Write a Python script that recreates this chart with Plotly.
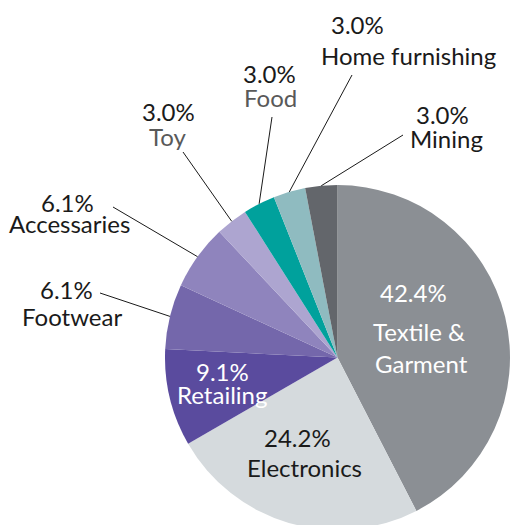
import math
import plotly.graph_objects as go

# Share of companies by sector (percent)
sectors = ["Textile & Garment", "Electronics", "Retailing", "Footwear", "Accessaries",
           "Toy", "Food", "Home furnishing", "Mining"]
shares = [42.4, 24.2, 9.1, 6.1, 6.1, 3.0, 3.0, 3.0, 3.0]
name_lines = [["Textile &", "Garment"], ["Electronics"], ["Retailing"], ["Footwear"],
              ["Accessaries"], ["Toy"], ["Food"], ["Home furnishing"], ["Mining"]]

colors = ["#8b8f94", "#d5dadd", "#5a4b9e", "#7467ab", "#8f84bd",
          "#ada5d0", "#00a19c", "#8fbbc0", "#63666b"]

W, H = 510, 540
FONT = "Lato"
FS = 24

# Pie placement in pixels (left, top, diameter)
PIE_LEFT, PIE_TOP, PIE_D = 165, 185, 345
cx, cy, r = PIE_LEFT + PIE_D / 2, PIE_TOP + PIE_D / 2, PIE_D / 2


def px(x):
    return x / W


def py(y):
    return (H - y) / H


# Label layout: centre of the percent line, centres of the name lines,
# text colours, and the start point of a leader line (None = inside label)
label_pos = {
    "Textile & Garment": ((413, 293), [(419, 331), (421, 363)]),
    "Electronics": ((297, 437), [(304, 467)]),
    "Retailing": ((222, 371), [(222, 394)]),
    "Footwear": ((66, 290), [(72, 316)]),
    "Accessaries": ((67, 202), [(69, 223)]),
    "Toy": ((168, 112), [(167, 137)]),
    "Food": ((269, 73), [(270, 98)]),
    "Home furnishing": ((357, 25), [(408, 55)]),
    "Mining": ((442, 115), [(446, 138)]),
}
pct_color = {"Textile & Garment": "white", "Retailing": "white"}
name_color = {"Textile & Garment": "white", "Retailing": "white",
              "Toy": "#595959", "Food": "#595959"}
leader_start = {
    "Footwear": (100, 293),
    "Accessaries": (113, 207),
    "Toy": (183, 152),
    "Food": (272, 117),
    "Home furnishing": (352, 75),
    "Mining": (403, 135),
}

fig = go.Figure(go.Pie(
    labels=sectors,
    values=shares,
    sort=False,
    direction="clockwise",
    rotation=0,
    marker=dict(colors=colors, line=dict(width=0)),
    textinfo="none",
    hoverinfo="label+percent",
    showlegend=False,
    domain=dict(x=[px(PIE_LEFT), px(PIE_LEFT + PIE_D)],
                y=[py(PIE_TOP + PIE_D), py(PIE_TOP)]),
))

annotations = []
shapes = []
total = sum(shares)
cum = 0.0
for name, val, lines in zip(sectors, shares, name_lines):
    mid = (cum + val / 2) / total * 2 * math.pi
    cum += val
    (pxy, name_xy) = label_pos[name]
    annotations.append(dict(
        x=px(pxy[0]), y=py(pxy[1]), xref="paper", yref="paper",
        text=f"{val:.1f}%", showarrow=False, xanchor="center", yanchor="middle",
        font=dict(family=FONT, size=FS, color=pct_color.get(name, "#1a1a1a")),
    ))
    for line, (lx, ly) in zip(lines, name_xy):
        annotations.append(dict(
            x=px(lx), y=py(ly), xref="paper", yref="paper",
            text=line, showarrow=False, xanchor="center", yanchor="middle",
            font=dict(family=FONT, size=FS, color=name_color.get(name, "#1a1a1a")),
        ))
    if name in leader_start:
        sx, sy = leader_start[name]
        ex, ey = cx + r * math.sin(mid), cy - r * math.cos(mid)
        shapes.append(dict(
            type="line", xref="paper", yref="paper",
            x0=px(sx), y0=py(sy), x1=px(ex), y1=py(ey),
            line=dict(color="#1a1a1a", width=1),
        ))

fig.update_layout(
    width=W, height=H,
    margin=dict(l=0, r=0, t=0, b=0),
    paper_bgcolor="white",
    plot_bgcolor="white",
    annotations=annotations,
    shapes=shapes,
    font=dict(family=FONT, size=FS),
)

fig.write_html("out.html",
               post_script="document.body.style.margin='0';"
                           "document.body.style.overflow='hidden';"
                           "document.documentElement.style.overflow='hidden';")
